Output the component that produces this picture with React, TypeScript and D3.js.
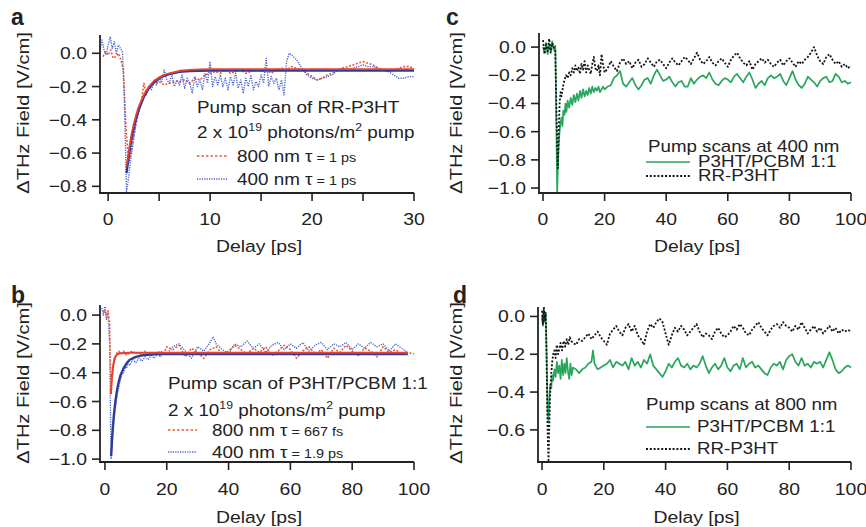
import React from "react";
import * as d3 from "d3";

type P = [number, number];

// ---------- Panel a : pump scan of RR-P3HT ----------
const a800: P[] = [
  [-0.5, -0.02], [-0.25, 0.01], [0, -0.01], [0.25, 0.02], [0.5, -0.03], [0.75, -0.02], [1.0, 0.0], [1.25, -0.04],
  [1.5, -0.1], [1.75, -0.45], [2.0, -0.66], [2.25, -0.6], [2.5, -0.5], [2.75, -0.42], [3.0, -0.35], [3.25, -0.3],
  [3.5, -0.18], [3.75, -0.25], [4.0, -0.2], [4.5, -0.18], [5.0, -0.17], [5.5, -0.19], [6.0, -0.18], [6.5, -0.17],
  [7.0, -0.17], [7.5, -0.16], [8.0, -0.18], [8.5, -0.15], [9.0, -0.16], [9.5, -0.13], [10, -0.12], [10.5, -0.11],
  [11, -0.12], [11.5, -0.1], [12, -0.12], [12.5, -0.11], [13, -0.1], [13.5, -0.12], [14, -0.11], [14.5, -0.1],
  [15, -0.11], [15.5, -0.1], [16, -0.12], [16.5, -0.1], [17, -0.09], [17.5, -0.1], [18, -0.08], [18.5, -0.09],
  [19, -0.1], [19.5, -0.12], [20, -0.14], [20.5, -0.16], [21, -0.15], [21.5, -0.13], [22, -0.12], [22.5, -0.1],
  [23, -0.09], [23.5, -0.08], [24, -0.07], [24.5, -0.06], [25, -0.05], [25.5, -0.06], [26, -0.07], [26.5, -0.09],
  [27, -0.1], [27.5, -0.11], [28, -0.1], [28.5, -0.09], [29, -0.08], [29.5, -0.08], [30, -0.09],
];
const a400: P[] = [
  [-0.8, 0.02], [-0.6, 0.08], [-0.4, 0.02], [-0.2, -0.01], [0, 0.05], [0.2, 0.1], [0.4, 0.03], [0.6, 0.07],
  [0.8, 0.0], [1.0, 0.05], [1.2, 0.03], [1.4, 0.01], [1.6, -0.3], [1.8, -0.83], [2.0, -0.75], [2.25, -0.62],
  [2.5, -0.52], [2.75, -0.4], [3.0, -0.33], [3.25, -0.3], [3.5, -0.27], [3.75, -0.23], [4.0, -0.2], [4.25, -0.22],
  [4.5, -0.17], [4.75, -0.19], [5.0, -0.15], [5.25, -0.17], [5.5, -0.1], [5.75, -0.16], [6.0, -0.18], [6.25, -0.13],
  [6.5, -0.2], [6.75, -0.16], [7.0, -0.19], [7.25, -0.13], [7.5, -0.21], [7.75, -0.15], [8.0, -0.18], [8.25, -0.24],
  [8.5, -0.14], [8.75, -0.2], [9.0, -0.16], [9.25, -0.22], [9.5, -0.12], [9.75, -0.18], [10.0, -0.05], [10.25, -0.2],
  [10.5, -0.14], [10.75, -0.19], [11.0, -0.13], [11.25, -0.2], [11.5, -0.15], [11.75, -0.22], [12.0, -0.14], [12.25, -0.19],
  [12.5, -0.12], [12.75, -0.21], [13.0, -0.16], [13.25, -0.24], [13.5, -0.15], [13.75, -0.2], [14.0, -0.13], [14.25, -0.22],
  [14.5, -0.17], [14.75, -0.2], [15.0, -0.13], [15.25, -0.18], [15.5, -0.03], [15.75, -0.2], [16.0, -0.14], [16.25, -0.18],
  [16.5, -0.15], [16.75, -0.22], [17.0, -0.16], [17.25, -0.25], [17.5, -0.05], [17.75, 0.0], [18.0, -0.01], [18.5, -0.04],
  [19, -0.09], [19.5, -0.13], [20, -0.15], [20.5, -0.16], [21, -0.15], [21.5, -0.14], [22, -0.13], [22.5, -0.1],
  [23, -0.09], [23.5, -0.1], [24, -0.09], [24.5, -0.08], [25, -0.07], [25.5, -0.08], [26, -0.08], [26.5, -0.09],
  [27, -0.1], [27.5, -0.11], [28, -0.13], [28.5, -0.15], [29, -0.15], [29.5, -0.14], [30, -0.14],
];
const aFit800: P[] = [
  [1.8, -0.68], [2, -0.6], [2.25, -0.5], [2.5, -0.43], [2.75, -0.37], [3, -0.32], [3.5, -0.25], [4, -0.2],
  [4.5, -0.165], [5, -0.145], [5.5, -0.13], [6, -0.12], [7, -0.105], [8, -0.1], [9, -0.097], [10, -0.095],
  [15, -0.095], [20, -0.095], [25, -0.095], [30, -0.095],
];
const aFit400: P[] = [
  [1.8, -0.72], [2, -0.63], [2.25, -0.53], [2.5, -0.45], [2.75, -0.39], [3, -0.34], [3.5, -0.26], [4, -0.21],
  [4.5, -0.175], [5, -0.15], [5.5, -0.135], [6, -0.125], [7, -0.112], [8, -0.107], [9, -0.105], [10, -0.104],
  [15, -0.104], [20, -0.104], [25, -0.104], [30, -0.104],
];

// ---------- Panel b : pump scan of P3HT/PCBM 1:1 ----------
const b800: P[] = [
  [-0.5, 0.02], [0, 0.04], [0.5, -0.02], [1, 0.03], [1.5, -0.05], [1.8, -0.35], [2, -0.55], [2.3, -0.45],
  [2.6, -0.38], [3, -0.32], [3.5, -0.28], [4, -0.26], [4.5, -0.25], [5, -0.27], [6, -0.25], [7, -0.28],
  [8, -0.26], [9, -0.25], [10, -0.27], [11, -0.26], [12, -0.28], [13, -0.25], [14, -0.27], [15, -0.26],
  [16, -0.28], [17, -0.26], [18, -0.25], [19, -0.27], [20, -0.22], [22, -0.24], [24, -0.21], [26, -0.29],
  [28, -0.23], [30, -0.26], [32, -0.3], [34, -0.24], [36, -0.22], [38, -0.27], [40, -0.25], [42, -0.21],
  [44, -0.24], [46, -0.27], [48, -0.23], [50, -0.26], [52, -0.22], [54, -0.28], [56, -0.25], [58, -0.21],
  [60, -0.24], [62, -0.3], [64, -0.25], [66, -0.22], [68, -0.27], [70, -0.24], [72, -0.3], [74, -0.23],
  [76, -0.26], [78, -0.21], [80, -0.25], [82, -0.28], [84, -0.23], [86, -0.25], [88, -0.29], [90, -0.22],
  [92, -0.26], [94, -0.24], [96, -0.27], [98, -0.26], [100, -0.27],
];
const b400: P[] = [
  [-1, 0.05], [-0.5, 0.0], [0, 0.06], [0.5, -0.03], [1, 0.03], [1.5, -0.2], [1.8, -0.7], [2, -1.0],
  [2.3, -0.9], [2.6, -0.8], [3, -0.7], [3.5, -0.62], [4, -0.55], [4.5, -0.5], [5, -0.45], [5.5, -0.41],
  [6, -0.4], [6.5, -0.36], [7, -0.37], [7.5, -0.33], [8, -0.35], [9, -0.31], [10, -0.33], [11, -0.3],
  [12, -0.32], [13, -0.29], [14, -0.31], [15, -0.28], [16, -0.3], [17, -0.27], [18, -0.29], [19, -0.26],
  [20, -0.27], [22, -0.22], [24, -0.2], [26, -0.25], [28, -0.3], [30, -0.22], [32, -0.25], [34, -0.19],
  [35, -0.15], [36, -0.2], [38, -0.24], [40, -0.27], [42, -0.2], [44, -0.22], [46, -0.18], [48, -0.23],
  [50, -0.2], [52, -0.26], [54, -0.21], [56, -0.19], [58, -0.24], [60, -0.2], [62, -0.23], [64, -0.19],
  [66, -0.25], [68, -0.21], [70, -0.19], [72, -0.24], [74, -0.2], [76, -0.22], [78, -0.19], [80, -0.24],
  [82, -0.2], [84, -0.23], [86, -0.19], [88, -0.22], [90, -0.2], [92, -0.25], [94, -0.2], [96, -0.23], [98, -0.26],
];
const bFit800: P[] = [
  [1.9, -0.55], [2.2, -0.44], [2.6, -0.36], [3, -0.31], [3.5, -0.285], [4, -0.272], [5, -0.265], [8, -0.262],
  [20, -0.262], [40, -0.262], [60, -0.262], [80, -0.262], [98, -0.262],
];
const bFit400: P[] = [
  [2, -0.98], [2.3, -0.86], [2.6, -0.77], [3, -0.67], [3.5, -0.58], [4, -0.51], [4.5, -0.46], [5, -0.42],
  [6, -0.37], [7, -0.335], [8, -0.31], [10, -0.29], [12, -0.28], [14, -0.275], [16, -0.272], [18, -0.271],
  [20, -0.27], [30, -0.27], [60, -0.27], [98, -0.27],
];

// ---------- Panel c : pump scans at 400 nm ----------
const cBlend: P[] = [
  [0, 0.0], [0.5, -0.04], [1, 0.03], [1.5, -0.05], [2, 0.02], [2.5, -0.03], [3, 0.04], [3.5, -0.02], [4, 0.01],
  [4.3, -0.5], [4.6, -1.03], [5, -0.75], [5.3, -0.62], [5.6, -0.55], [6, -0.5], [6.3, -0.56], [6.6, -0.45],
  [7, -0.48], [7.3, -0.4], [7.6, -0.46], [8, -0.38], [8.5, -0.43], [9, -0.36], [9.5, -0.41], [10, -0.34],
  [10.5, -0.39], [11, -0.33], [11.5, -0.38], [12, -0.31], [12.5, -0.36], [13, -0.3], [13.5, -0.35], [14, -0.31],
  [14.5, -0.34], [15, -0.29], [15.5, -0.33], [16, -0.28], [16.5, -0.32], [17, -0.29], [17.5, -0.31], [18, -0.28],
  [18.5, -0.32], [19, -0.3], [19.5, -0.28], [20, -0.3], [21, -0.28], [22, -0.27], [23, -0.22], [24, -0.2],
  [25, -0.17], [26, -0.26], [27, -0.28], [28, -0.25], [29, -0.22], [30, -0.27], [31, -0.3], [32, -0.27],
  [33, -0.23], [34, -0.22], [35, -0.26], [36, -0.2], [37, -0.16], [38, -0.2], [39, -0.24], [40, -0.23],
  [41, -0.21], [42, -0.25], [43, -0.28], [44, -0.25], [45, -0.24], [46, -0.28], [47, -0.28], [48, -0.22],
  [49, -0.26], [50, -0.23], [51, -0.21], [52, -0.2], [53, -0.22], [54, -0.18], [55, -0.23], [56, -0.26],
  [57, -0.27], [58, -0.24], [59, -0.22], [60, -0.23], [61, -0.25], [62, -0.21], [63, -0.19], [64, -0.22],
  [65, -0.25], [66, -0.21], [67, -0.18], [68, -0.23], [69, -0.29], [70, -0.26], [71, -0.24], [72, -0.27],
  [73, -0.22], [74, -0.2], [75, -0.22], [76, -0.21], [77, -0.19], [78, -0.24], [79, -0.27], [80, -0.22],
  [81, -0.17], [82, -0.23], [83, -0.27], [84, -0.29], [85, -0.26], [86, -0.21], [87, -0.23], [88, -0.25],
  [89, -0.28], [90, -0.24], [91, -0.22], [92, -0.21], [93, -0.25], [94, -0.24], [95, -0.19], [96, -0.21],
  [97, -0.25], [98, -0.24], [99, -0.26], [100, -0.25],
];
const cRR: P[] = [
  [0, 0.05], [0.5, -0.05], [1, 0.02], [1.5, -0.03], [2, 0.06], [2.5, -0.04], [3, 0.03], [3.5, 0.0], [4, -0.03],
  [4.4, -0.5], [4.8, -0.86], [5.1, -0.6], [5.4, -0.4], [5.7, -0.32], [6, -0.35], [6.5, -0.28], [7, -0.23],
  [7.5, -0.2], [8, -0.22], [8.5, -0.18], [9, -0.2], [9.5, -0.15], [10, -0.18], [10.5, -0.13], [11, -0.17],
  [11.5, -0.14], [12, -0.19], [12.5, -0.12], [13, -0.16], [13.5, -0.1], [14, -0.18], [14.5, -0.13], [15, -0.16],
  [15.5, -0.19], [16, -0.12], [16.5, -0.07], [17, -0.15], [17.5, -0.17], [18, -0.13], [18.5, -0.2], [19, -0.05],
  [19.5, -0.12], [20, -0.18], [21, -0.15], [22, -0.1], [23, -0.14], [24, -0.17], [25, -0.11], [26, -0.08],
  [27, -0.12], [28, -0.1], [29, -0.15], [30, -0.11], [31, -0.09], [32, -0.14], [33, -0.12], [34, -0.08],
  [35, -0.11], [36, -0.14], [37, -0.1], [38, -0.09], [39, -0.12], [40, -0.15], [41, -0.11], [42, -0.08],
  [43, -0.11], [44, -0.13], [45, -0.1], [46, -0.07], [47, -0.09], [48, -0.12], [49, -0.08], [50, -0.04],
  [51, -0.09], [52, -0.12], [53, -0.1], [54, -0.07], [55, -0.11], [56, -0.13], [57, -0.1], [58, -0.08],
  [59, -0.11], [60, -0.14], [61, -0.09], [62, -0.06], [63, -0.04], [64, -0.08], [65, -0.11], [66, -0.13],
  [67, -0.1], [68, -0.16], [69, -0.12], [70, -0.1], [71, -0.08], [72, -0.11], [73, -0.09], [74, -0.12],
  [75, -0.14], [76, -0.11], [77, -0.09], [78, -0.13], [79, -0.1], [80, -0.08], [81, -0.11], [82, -0.14],
  [83, -0.1], [84, -0.12], [85, -0.09], [86, -0.07], [87, -0.04], [88, 0.0], [89, -0.06], [90, -0.1],
  [91, -0.12], [92, -0.07], [93, -0.05], [94, -0.09], [95, -0.12], [96, -0.1], [97, -0.14], [98, -0.12],
  [99, -0.15], [100, -0.13],
];

// ---------- Panel d : pump scans at 800 nm ----------
const dBlend: P[] = [
  [0, 0.0], [0.3, -0.05], [0.6, 0.03], [0.9, -0.03], [1.2, 0.01], [1.5, -0.2], [1.8, -0.5], [2.1, -0.55],
  [2.4, -0.42], [2.7, -0.36], [3, -0.38], [3.3, -0.31], [3.6, -0.34], [4, -0.28], [4.4, -0.32], [4.8, -0.24],
  [5.2, -0.3], [5.6, -0.26], [6, -0.33], [6.4, -0.23], [6.8, -0.31], [7.2, -0.25], [7.6, -0.3], [8, -0.22],
  [8.4, -0.29], [8.8, -0.33], [9.2, -0.25], [9.6, -0.31], [10, -0.27], [11, -0.28], [12, -0.3], [13, -0.28],
  [14, -0.27], [15, -0.25], [16, -0.24], [16.5, -0.18], [17, -0.25], [18, -0.28], [19, -0.27], [20, -0.26],
  [21, -0.25], [22, -0.23], [23, -0.27], [24, -0.24], [25, -0.25], [26, -0.26], [27, -0.24], [28, -0.28],
  [29, -0.22], [30, -0.26], [31, -0.24], [32, -0.27], [33, -0.23], [34, -0.25], [35, -0.2], [36, -0.26],
  [37, -0.28], [38, -0.3], [39, -0.32], [40, -0.29], [41, -0.25], [42, -0.27], [43, -0.24], [44, -0.22],
  [45, -0.26], [46, -0.27], [47, -0.25], [48, -0.28], [49, -0.26], [50, -0.27], [51, -0.25], [52, -0.21],
  [53, -0.26], [54, -0.3], [55, -0.27], [56, -0.25], [57, -0.28], [58, -0.26], [59, -0.22], [60, -0.27],
  [61, -0.29], [62, -0.26], [63, -0.25], [64, -0.28], [65, -0.22], [66, -0.27], [67, -0.25], [68, -0.24],
  [69, -0.27], [70, -0.26], [71, -0.28], [72, -0.3], [73, -0.31], [74, -0.27], [75, -0.25], [76, -0.26],
  [77, -0.24], [78, -0.28], [79, -0.23], [80, -0.21], [81, -0.2], [82, -0.24], [83, -0.26], [84, -0.22],
  [85, -0.26], [86, -0.25], [87, -0.27], [88, -0.24], [89, -0.25], [90, -0.24], [91, -0.27], [92, -0.23],
  [93, -0.19], [94, -0.23], [95, -0.28], [96, -0.3], [97, -0.29], [98, -0.27], [99, -0.26], [100, -0.27],
];
const dRR: P[] = [
  [0, 0.03], [0.3, -0.04], [0.6, 0.05], [0.9, -0.02], [1.2, 0.02], [1.5, -0.25], [1.8, -0.6], [2.1, -0.76],
  [2.4, -0.55], [2.7, -0.38], [3, -0.3], [3.3, -0.24], [3.6, -0.2], [4, -0.18], [4.4, -0.22], [4.8, -0.15],
  [5.2, -0.2], [5.6, -0.17], [6, -0.14], [6.5, -0.18], [7, -0.13], [7.5, -0.16], [8, -0.12], [8.5, -0.15],
  [9, -0.11], [9.5, -0.13], [10, -0.14], [11, -0.15], [12, -0.12], [13, -0.13], [14, -0.11], [15, -0.09],
  [16, -0.12], [17, -0.1], [18, -0.08], [19, -0.11], [20, -0.13], [21, -0.15], [22, -0.09], [23, -0.07],
  [24, -0.05], [25, -0.08], [26, -0.1], [27, -0.06], [28, -0.04], [29, -0.08], [30, -0.05], [31, -0.1],
  [32, -0.12], [33, -0.15], [34, -0.08], [35, -0.04], [36, -0.06], [37, -0.03], [38, -0.01], [39, -0.03],
  [40, -0.09], [41, -0.15], [42, -0.1], [43, -0.06], [44, -0.08], [45, -0.05], [46, -0.07], [47, -0.1],
  [48, -0.08], [49, -0.06], [50, -0.04], [51, -0.08], [52, -0.11], [53, -0.09], [54, -0.1], [55, -0.12],
  [56, -0.08], [57, -0.06], [58, -0.09], [59, -0.11], [60, -0.1], [61, -0.08], [62, -0.05], [63, -0.07],
  [64, -0.04], [65, -0.06], [66, -0.09], [67, -0.1], [68, -0.07], [69, -0.05], [70, -0.03], [71, -0.06],
  [72, -0.08], [73, -0.1], [74, -0.07], [75, -0.05], [76, -0.04], [77, -0.06], [78, -0.03], [79, -0.05],
  [80, -0.06], [81, -0.08], [82, -0.05], [83, -0.07], [84, -0.03], [85, -0.06], [86, -0.09], [87, -0.07],
  [88, -0.05], [89, -0.08], [90, -0.06], [91, -0.09], [92, -0.07], [93, -0.05], [94, -0.08], [95, -0.06],
  [96, -0.09], [97, -0.07], [98, -0.08], [99, -0.07], [100, -0.08],
];

// ---------- Ticks ----------
const aXTicks = [0, 5, 10, 15, 20, 25, 30];
const aXLabels = [0, 10, 20, 30];
const aYTicks = [0, -0.2, -0.4, -0.6, -0.8];
const longXTicks = [0, 20, 40, 60, 80, 100];
const bYTicks = [0, -0.2, -0.4, -0.6, -0.8, -1.0];
const cYTicks = [0, -0.2, -0.4, -0.6, -0.8, -1.0];
const dYTicks = [0, -0.2, -0.4, -0.6];

const FONT = "'Liberation Sans', Arial, Helvetica, sans-serif";
const INK = "#222";
const RED = "#f05a38";
const RED_FIT = "#e5412c";
const BLUE = "#4862d2";
const BLUE_FIT = "#2d3c9a";
const GREEN = "#27a65c";
const BLACK = "#151515";

function T({ x, y, size = 17, sx = 1.14, anchor = "start", rot = 0, weight = "normal", children }: any) {
  return (
    <text
      transform={`translate(${x},${y}) rotate(${rot}) scale(${sx},1)`}
      fontSize={size}
      textAnchor={anchor}
      fontFamily={FONT}
      fontWeight={weight}
      fill={INK}
    >
      {children}
    </text>
  );
}

type Series = { data: P[]; color: string; width: number; dash?: string };

function Panel({ xd, xr, yd, yr, xTicks, xLabels, yTicks, series, titleX, titleY, tickBase, delayBase }: any) {
  const x = d3.scaleLinear().domain(xd).range(xr);
  const y = d3.scaleLinear().domain(yd).range(yr);
  const line = d3
    .line<P>()
    .x((d) => x(d[0]))
    .y((d) => y(d[1]));
  const fmt = d3.format(".1f");
  const x0 = xr[0];
  const yb = yr[1];
  return (
    <g>
      <defs>
        <clipPath id={`clip-${x0}-${yb}`}>
          <rect x={x0} y={yr[0] - 4} width={xr[1] - x0 + 4} height={yb - yr[0] + 4} />
        </clipPath>
      </defs>
      <g clipPath={`url(#clip-${x0}-${yb})`}>
        {series.map((s: Series, i: number) => (
          <path
            key={i}
            d={line(s.data) || ""}
            fill="none"
            stroke={s.color}
            strokeWidth={s.width}
            strokeDasharray={s.dash}
            strokeLinejoin="round"
          />
        ))}
      </g>
      <line x1={x0} x2={x0} y1={yr[0]} y2={yb + 1} stroke={INK} strokeWidth={1.8} />
      <line x1={x0 - 1} x2={xr[1]} y1={yb} y2={yb} stroke={INK} strokeWidth={1.8} />
      {yTicks.map((t: number) => (
        <g key={"y" + t}>
          <line x1={x0 - 8} x2={x0} y1={y(t)} y2={y(t)} stroke={INK} strokeWidth={1.6} />
          <T x={x0 - 13} y={y(t) + 6} anchor="end">
            {fmt(t) === "-0.0" ? "0.0" : fmt(t)}
          </T>
        </g>
      ))}
      {xTicks.map((t: number) => (
        <line key={"x" + t} x1={x(t)} x2={x(t)} y1={yb} y2={yb + 8} stroke={INK} strokeWidth={1.6} />
      ))}
      {xLabels.map((t: number) => (
        <T key={"xl" + t} x={x(t)} y={tickBase} anchor="middle">
          {String(t)}
        </T>
      ))}
      <T x={(xr[0] + xr[1]) / 2 + 2} y={delayBase} anchor="middle">
        Delay [ps]
      </T>
      <T x={titleX} y={titleY} anchor="middle" rot={-90} size={17} sx={1.18}>
        ΔTHz Field [V/cm]
      </T>
    </g>
  );
}

function Sup({ children }: any) {
  return (
    <>
      <tspan dy={-7} fontSize={11}>
        {children}
      </tspan>
      <tspan dy={7}> </tspan>
    </>
  );
}

export default function App() {
  return (
    <svg
      width={866}
      height={527}
      viewBox="0 0 866 527"
      style={{ position: "absolute", left: 0, top: 0, background: "#fff" }}
    >
      <rect width={866} height={527} fill="#fff" />

      {/* panel a */}
      <Panel
        xd={[-0.8, 30]}
        xr={[100, 414]}
        yd={[0.11, -0.84]}
        yr={[35, 193]}
        xTicks={aXTicks}
        xLabels={aXLabels}
        yTicks={aYTicks}
        tickBase={225}
        delayBase={252}
        titleX={29}
        titleY={113}
        series={[
          { data: a800, color: RED, width: 1.6, dash: "2,1.6" },
          { data: a400, color: BLUE, width: 1.4, dash: "1.2,1.2" },
          { data: aFit400, color: BLUE_FIT, width: 2.4 },
          { data: aFit800, color: RED_FIT, width: 1.8 },
        ]}
      />
      <T x={11} y={25} size={23} weight="bold" sx={1}>a</T>
      <T x={197} y={113} sx={1.11}>Pump scan of RR-P3HT</T>
      <T x={197} y={138} sx={1.11}>
        2 x 10<Sup>19</Sup>photons/m<Sup>2</Sup>pump
      </T>
      <line x1={197} x2={228} y1={156} y2={156} stroke={RED} strokeWidth={1.6} strokeDasharray="2.5,2" />
      <T x={237} y={162} sx={1.11}>
        800 nm τ<tspan fontSize={13}> = 1 ps</tspan>
      </T>
      <line x1={197} x2={228} y1={179} y2={179} stroke={BLUE} strokeWidth={1.4} strokeDasharray="1.2,1.2" />
      <T x={237} y={185} sx={1.11}>
        400 nm τ<tspan fontSize={13}> = 1 ps</tspan>
      </T>

      {/* panel b */}
      <Panel
        xd={[-1.6, 100]}
        xr={[100, 414]}
        yd={[0.07, -1.02]}
        yr={[305, 462]}
        xTicks={longXTicks}
        xLabels={longXTicks}
        yTicks={bYTicks}
        tickBase={495}
        delayBase={523}
        titleX={29}
        titleY={383}
        series={[
          { data: b400, color: BLUE, width: 1.4, dash: "1.2,1.2" },
          { data: b800, color: RED, width: 1.6, dash: "2,1.6" },
          { data: bFit400, color: BLUE_FIT, width: 2.4 },
          { data: bFit800, color: RED_FIT, width: 2 },
        ]}
      />
      <T x={11} y={303} size={23} weight="bold" sx={1}>b</T>
      <T x={168} y={389} sx={1.11}>Pump scan of P3HT/PCBM 1:1</T>
      <T x={168} y={416} sx={1.11}>
        2 x 10<Sup>19</Sup>photons/m<Sup>2</Sup>pump
      </T>
      <line x1={168} x2={197} y1={430} y2={430} stroke={RED} strokeWidth={1.6} strokeDasharray="2.5,2" />
      <T x={212} y={436} sx={1.11}>
        800 nm τ<tspan fontSize={13}> = 667 fs</tspan>
      </T>
      <line x1={168} x2={197} y1={452} y2={452} stroke={BLUE} strokeWidth={1.4} strokeDasharray="1.2,1.2" />
      <T x={212} y={458} sx={1.11}>
        400 nm τ<tspan fontSize={13}> = 1.9 ps</tspan>
      </T>

      {/* panel c */}
      <Panel
        xd={[-1.3, 100]}
        xr={[539, 851]}
        yd={[0.1, -1.035]}
        yr={[33, 193]}
        xTicks={longXTicks}
        xLabels={longXTicks}
        yTicks={cYTicks}
        tickBase={225}
        delayBase={252}
        titleX={462}
        titleY={113}
        series={[
          { data: cBlend, color: GREEN, width: 1.7 },
          { data: cRR, color: BLACK, width: 1.8, dash: "2,1.8" },
        ]}
      />
      <T x={446} y={25} size={23} weight="bold" sx={1}>c</T>
      <T x={648} y={152} size={16} sx={1.17}>Pump scans at 400 nm</T>
      <line x1={646} x2={690} y1={162} y2={162} stroke={GREEN} strokeWidth={1.7} />
      <T x={698} y={167} size={16} sx={1.17}>P3HT/PCBM 1:1</T>
      <line x1={646} x2={690} y1={176} y2={176} stroke={BLACK} strokeWidth={1.8} strokeDasharray="2,1.8" />
      <T x={698} y={181} size={16} sx={1.17}>RR-P3HT</T>

      {/* panel d */}
      <Panel
        xd={[-1.3, 100]}
        xr={[538, 851]}
        yd={[0.05, -0.77]}
        yr={[307, 462]}
        xTicks={longXTicks}
        xLabels={longXTicks}
        yTicks={dYTicks}
        tickBase={495}
        delayBase={523}
        titleX={462}
        titleY={383}
        series={[
          { data: dBlend, color: GREEN, width: 1.7 },
          { data: dRR, color: BLACK, width: 1.8, dash: "2,1.8" },
        ]}
      />
      <T x={453} y={303} size={23} weight="bold" sx={1}>d</T>
      <T x={646} y={410} size={16} sx={1.17}>Pump scans at 800 nm</T>
      <line x1={646} x2={690} y1={427} y2={427} stroke={GREEN} strokeWidth={1.7} />
      <T x={697} y={432} size={16} sx={1.17}>P3HT/PCBM 1:1</T>
      <line x1={646} x2={690} y1={449} y2={449} stroke={BLACK} strokeWidth={1.8} strokeDasharray="2,1.8" />
      <T x={697} y={454} size={16} sx={1.17}>RR-P3HT</T>
    </svg>
  );
}
